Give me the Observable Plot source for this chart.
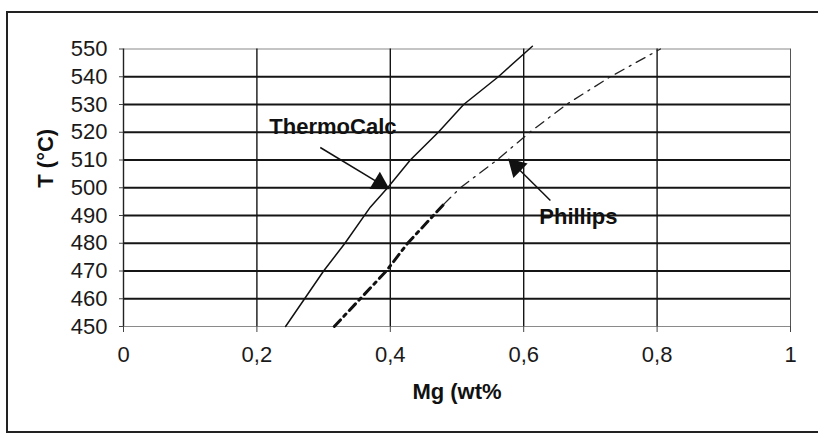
<!DOCTYPE html>
<html><head><meta charset="utf-8">
<script src="https://cdn.jsdelivr.net/npm/d3@7"></script>
<script src="https://cdn.jsdelivr.net/npm/@observablehq/plot@0.6"></script>
<style>
body{margin:0;background:#fff}
#chart{position:relative;width:818px;height:434px;overflow:hidden}
</style>
</head><body><div id="chart"></div>
<script>
// ---- data ----
const xTicks = [0, 0.2, 0.4, 0.6, 0.8, 1];
const xTickLabels = ["0", "0,2", "0,4", "0,6", "0,8", "1"];
const yTicks = [450, 460, 470, 480, 490, 500, 510, 520, 530, 540, 550];
const thermoMg = [0.243, 0.300, 0.332, 0.370, 0.396, 0.430, 0.472, 0.510, 0.562, 0.613];
const thermoT  = [450,   470,   480,   493,   500,   510,   520,   530,   540,   551];
const phillipsMg = [0.316, 0.394, 0.426, 0.480, 0.505, 0.560, 0.609, 0.664, 0.730, 0.805];
const phillipsT  = [450,   470,   480,   494,   500,   510,   520,   530,   540,   550];
const labelText = ["ThermoCalc", "Phillips"];
const labelMg = [0.314, 0.682];
const labelT = [522, 489.6];
const arrowFromMg = [0.295, 0.640];
const arrowFromT = [514.5, 495.4];
const arrowToMg = [0.384, 0.589];
const arrowToT = [501.6, 507.6];

// ---- tables ----
const thermo = thermoMg.map((m, i) => ({mg: m, t: thermoT[i]}));
const phillips = phillipsMg.map((m, i) => ({mg: m, t: phillipsT[i]}));
const splitT = 494;
const phLow = phillips.filter(d => d.t <= splitT);
const phHigh = phillips.filter(d => d.t >= splitT);
const labels = labelText.map((s, i) => ({s, mg: labelMg[i], t: labelT[i]}));
const arrows = arrowFromMg.map((m, i) => ({
  x1: m, y1: arrowFromT[i], x2: arrowToMg[i], y2: arrowToT[i]
}));
const innerY = yTicks.filter(t => t > 450 && t < 550);
const innerX = xTicks.filter(t => t > 0 && t < 1);

const W = 818, H = 434, mL = 123, mR = 28, mT = 48.5, mB = 108;
const sx = (W - mL - mR), sy = (H - mT - mB) / 100;
arrows.forEach(a => {
  const dx = (a.x2 - a.x1) * sx, dy = -(a.y2 - a.y1) * sy;
  a.rot = Math.atan2(dx, -dy) * 180 / Math.PI;
});

const font = "'Liberation Sans', Arial, Helvetica, sans-serif";

const chart = Plot.plot({
  width: W, height: H,
  marginLeft: mL, marginRight: mR, marginTop: mT, marginBottom: mB,
  style: {fontFamily: font, fontSize: "22px", color: "#1a1a1a", background: "#fff"},
  x: {domain: [0, 1]},
  y: {domain: [450, 550]},
  marks: [
    Plot.ruleY(innerY, {stroke: "#151515", strokeWidth: 1.8}),
    Plot.ruleY([450, 550], {stroke: "#8a8a8a", strokeWidth: 1.2}),
    Plot.ruleX(innerX, {stroke: "#151515", strokeWidth: 1.4}),
    Plot.ruleX([0], {stroke: "#222", strokeWidth: 1.4}),
    Plot.ruleX([1], {stroke: "#555", strokeWidth: 1}),
    Plot.axisY({ticks: yTicks, tickSize: 4, tickPadding: 12, label: null, fontSize: 22, stroke: "#444"}),
    Plot.axisX({ticks: xTicks, tickFormat: d => xTickLabels[xTicks.indexOf(d)], tickSize: 6, tickPadding: 14, label: null, fontSize: 22, stroke: "#444"}),
    Plot.line(thermo, {x: "mg", y: "t", stroke: "#111", strokeWidth: 1.5, clip: false}),
    Plot.line(phLow, {x: "mg", y: "t", stroke: "#111", strokeWidth: 3, strokeDasharray: "9,5,3,5"}),
    Plot.line(phHigh, {x: "mg", y: "t", stroke: "#222", strokeWidth: 1.3, strokeDasharray: "10,6,2,6"}),
    Plot.link(arrows, {x1: "x1", y1: "y1", x2: "x2", y2: "y2", stroke: "#111", strokeWidth: 1.5}),
    Plot.dot(arrows, {x: "x2", y: "y2", symbol: "triangle", r: 7.5, fill: "#111", stroke: "none", rotate: "rot"}),
    Plot.text(labels, {x: "mg", y: "t", text: "s", fontWeight: "bold", fontSize: 22, fill: "#111"}),
    Plot.text(["T (°C)"], {frameAnchor: "left", dx: -78, rotate: -90, fontWeight: "bold", fontSize: 22, fill: "#111"}),
    Plot.text(["Mg (wt%"], {frameAnchor: "bottom", dy: 72, fontWeight: "bold", fontSize: 22, fill: "#111"})
  ]
});
document.getElementById("chart").appendChild(chart);
d3.select(chart).append("rect")
  .attr("x", 7).attr("y", 12).attr("width", 840).attr("height", 420)
  .attr("fill", "none").attr("stroke", "#222").attr("stroke-width", 2);
</script>
</body></html>
